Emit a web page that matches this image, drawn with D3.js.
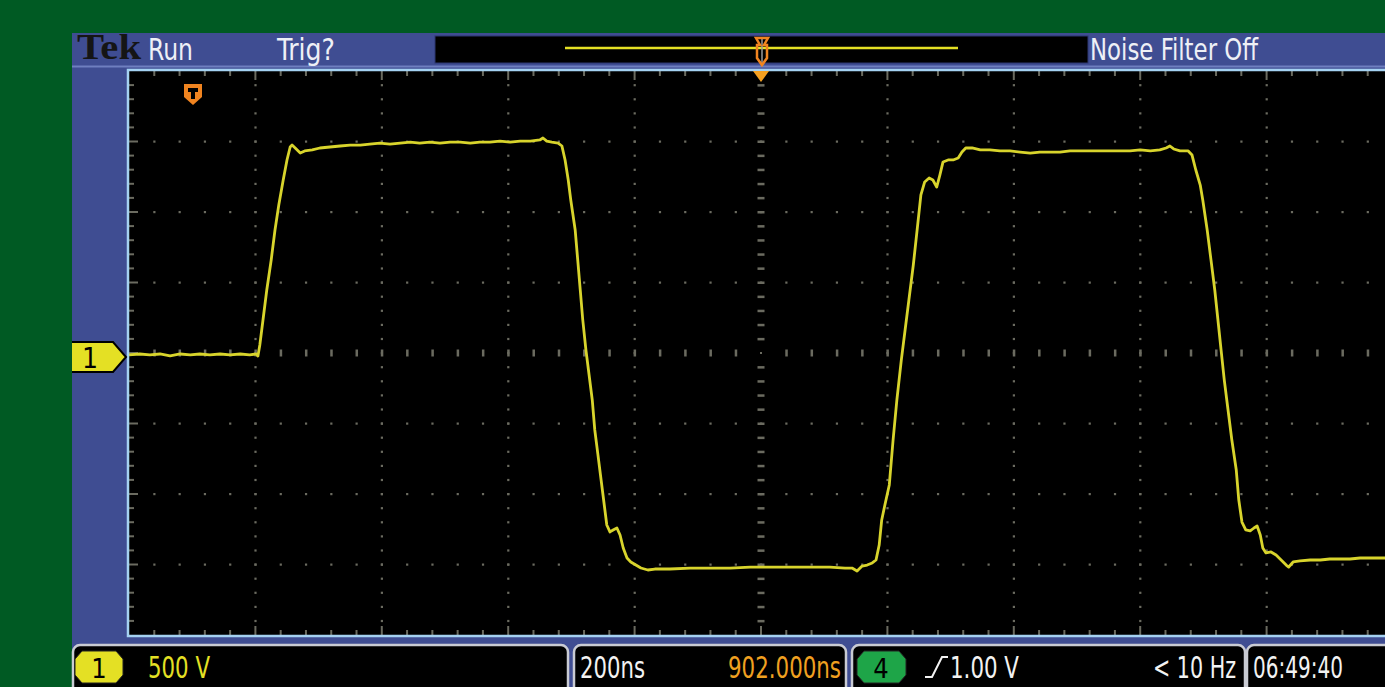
<!DOCTYPE html>
<html><head><meta charset="utf-8">
<script src="https://cdn.jsdelivr.net/npm/d3@7"></script>
<style>
html,body{margin:0;padding:0;background:#005a23;overflow:hidden}
svg{display:block}
text{font-family:"Liberation Sans Narrow","DejaVu Sans Condensed","Roboto Condensed","Liberation Sans",Arial,sans-serif}
</style></head><body><svg id="c" width="1385" height="687"></svg>
<script>
// ---- waveform data (time in ns from left edge of screen, voltage in V) ----
const timeNs = [
  0,17,33,49,65,81,97,112,128,144,160,176,191,201,204,
  207,212,218,225,231,237,244,250,255,258,
  263,271,278,290,302,318,334,350,366,381,397,413,429,445,460,476,492,508,524,540,555,571,587,603,619,635,650,655,661,669,679,685,
  690,695,699,706,710,714,718,723,728,733,737,742,747,752,756,761,766,772,777,782,788,794,802,810,821,
  832,856,888,919,951,983,1014,1046,1078,1109,1133,1144,1152,1160,1168,1176,1182,
  1187,1191,1196,1203,1209,1215,1222,1228,1234,1241,1247,1253,1259,1266,1272,1278,1283,1288,1296,1304,1312,1318,1324,1334,
  1347,1362,1378,1394,1410,1426,1441,1457,1473,1489,1505,1521,1536,1552,1568,1584,1600,1616,1631,1641,1647,1653,1663,1676,1682,
  1688,1695,1699,1706,1712,1718,1723,1728,1733,1739,1745,1752,1756,1761,1767,1774,1780,1785,1790,1794,1799,1807,1815,1823,1831,1835,1842,
  1853,1869,1885,1900,1916,1932,1948,1964,1987,2000
];
const volts = [
  -14,-7,-14,-7,-21,-7,-14,-7,-14,-7,-14,-7,-14,-7,-21,
  57,234,447,660,872,1050,1227,1369,1461,1475,
  1454,1418,1433,1440,1454,1461,1468,1475,1475,1482,1489,1482,1489,1496,1489,1496,1489,1496,1496,1489,1496,1496,1503,1496,1503,1503,1511,1525,1503,1496,1489,1468,
  1369,1227,1085,872,660,447,234,21,-156,-333,-546,-723,-901,-1078,-1220,-1269,-1255,-1241,-1291,-1383,-1454,-1482,-1504,-1525,-1539,
  -1532,-1532,-1525,-1525,-1525,-1518,-1518,-1518,-1518,-1518,-1525,-1525,-1546,-1511,-1504,-1489,-1468,
  -1362,-1184,-1078,-936,-617,-333,-50,163,376,624,872,1121,1213,1241,1227,1177,1262,1355,1369,1369,1383,1425,1454,1454,
  1440,1440,1433,1433,1425,1418,1425,1425,1425,1433,1433,1433,1433,1433,1433,1433,1440,1433,1440,1454,1468,1447,1433,1433,1404,
  1298,1191,1085,872,660,447,234,21,-191,-404,-617,-830,-1043,-1199,-1255,-1262,-1241,-1227,-1291,-1383,-1418,-1411,-1433,-1468,-1504,-1518,-1482,
  -1475,-1468,-1468,-1461,-1461,-1461,-1454,-1454,-1454,-1454
];
// graticule: 10 horizontal divisions of 200 ns, 8 vertical divisions of 500 V
const xMajorNs = [0,200,400,600,800,1000,1200,1400,1600,1800,2000];
const yMajorV = [-2000,-1500,-1000,-500,0,500,1000,1500,2000];
const minorPerDiv = 5;
// readout texts
const topTexts = ["Run","Trig?","Noise Filter Off"];
const brandText = "Tek";
const channelTexts = ["1","500 V"];
const timebaseTexts = ["200ns","902.000ns"];
const triggerTexts = ["4","1.00 V","< 10 Hz"];
const clockText = "06:49:40";

const svg = d3.select("#c");
const W = 1385, H = 687;
const x = d3.scaleLinear().domain([0,2000]).range([129,1393]);
const y = d3.scaleLinear().domain([-2000,2000]).range([635,71]);

const BLUE = "#3f4d92", YEL = "#e4e024", ORG = "#f08420", GRID = "#6b6b60";
const FS = 30;

svg.append("rect").attr("width",W).attr("height",H).attr("fill","#005a23");
svg.append("rect").attr("x",72).attr("y",33).attr("width",W-72).attr("height",H-33).attr("fill",BLUE);

// top bar
svg.append("line").attr("x1",72).attr("x2",W).attr("y1",66.5).attr("y2",66.5).attr("stroke","#6f7fbf").attr("stroke-width",2);
svg.append("text").attr("x",77).attr("y",59)
  .style("font-family","'Liberation Serif','DejaVu Serif',serif").attr("font-weight","bold").attr("font-size",35)
  .attr("textLength",64).attr("lengthAdjust","spacingAndGlyphs").attr("fill","#151515").text(brandText);
const topPos = [[148,45],[277,58],[1090,168]];
topTexts.forEach((t,i)=>{
  svg.append("text").attr("x",topPos[i][0]).attr("y",60).attr("font-size",FS)
    .attr("textLength",topPos[i][1]).attr("lengthAdjust","spacingAndGlyphs").attr("fill","#eef0f6").text(t);
});
svg.append("rect").attr("x",435).attr("y",36).attr("width",653).attr("height",27).attr("fill","#000")
  .attr("stroke","#2c3670").attr("stroke-width",1);
svg.append("line").attr("x1",565).attr("x2",958).attr("y1",48).attr("y2",48).attr("stroke",YEL).attr("stroke-width",2.5);
svg.append("line").attr("x1",762).attr("x2",762).attr("y1",37).attr("y2",66).attr("stroke","#9a9a9a").attr("stroke-width",1.5);
svg.append("path").attr("d","M756,38 H768 L764,45 H767 V58 L762,65 L757,58 V45 H760 Z").attr("fill","none").attr("stroke",ORG).attr("stroke-width",2.5);

// plot area
svg.append("rect").attr("x",x(0)).attr("y",y(2000)).attr("width",x(2000)-x(0)).attr("height",y(-2000)-y(2000)).attr("fill","#000");

const minorX = d3.range(0, xMajorNs.length-1).flatMap(i=>d3.range(minorPerDiv).map(k=>xMajorNs[i]+k*(xMajorNs[i+1]-xMajorNs[i])/minorPerDiv)).concat([2000]);
const minorY = d3.range(0, yMajorV.length-1).flatMap(i=>d3.range(minorPerDiv).map(k=>yMajorV[i]+k*(yMajorV[i+1]-yMajorV[i])/minorPerDiv)).concat([2000]);

const g = svg.append("g");
xMajorNs.filter(v=>v>0 && v<2000 && v!==1000).forEach(xv=>{
  minorY.filter(v=>v>-2000 && v<2000).forEach(yv=>{
    g.append("rect").attr("x",x(xv)-1).attr("y",y(yv)-1).attr("width",2.2).attr("height",2.2).attr("fill",GRID);
  });
});
yMajorV.filter(v=>v>-2000 && v<2000 && v!==0).forEach(yv=>{
  minorX.filter(v=>v>0 && v<2000).forEach(xv=>{
    g.append("rect").attr("x",x(xv)-1).attr("y",y(yv)-1).attr("width",2.2).attr("height",2.2).attr("fill",GRID);
  });
});
minorY.filter(v=>v>-2000 && v<2000).forEach(yv=>{
  if (yv===0) g.append("rect").attr("x",x(1000)-1).attr("y",y(0)-1).attr("width",2).attr("height",2).attr("fill",GRID);
  else g.append("rect").attr("x",x(1000)-3.5).attr("y",y(yv)-1).attr("width",7).attr("height",2.5).attr("fill",GRID);
});
minorX.filter(v=>v>0 && v<2000 && v!==1000).forEach(xv=>{
  g.append("rect").attr("x",x(xv)-1).attr("y",y(0)-3.5).attr("width",2.5).attr("height",7).attr("fill",GRID);
});
minorX.filter(v=>v>0).forEach(xv=>{
  const major = xMajorNs.includes(xv);
  g.append("line").attr("x1",x(xv)).attr("x2",x(xv)).attr("y1",y(2000)).attr("y2",y(2000)+(major?9:5)).attr("stroke",GRID).attr("stroke-width",2);
  g.append("line").attr("x1",x(xv)).attr("x2",x(xv)).attr("y1",y(-2000)).attr("y2",y(-2000)-(major?9:5)).attr("stroke",GRID).attr("stroke-width",2);
});
minorY.filter(v=>v>-2000 && v<2000).forEach(yv=>{
  const major = yMajorV.includes(yv);
  g.append("line").attr("x1",x(0)).attr("x2",x(0)+(major?9:5)).attr("y1",y(yv)).attr("y2",y(yv)).attr("stroke",GRID).attr("stroke-width",2);
});

// trace
svg.append("clipPath").attr("id","clip").append("rect").attr("x",x(0)).attr("y",y(2000)).attr("width",x(2000)-x(0)).attr("height",y(-2000)-y(2000));
const pts = timeNs.map((t,i)=>({t, v:volts[i]}));
svg.append("path").datum(pts).attr("clip-path","url(#clip)")
  .attr("d", d3.line().x(d=>x(d.t)).y(d=>y(d.v)))
  .attr("fill","none").attr("stroke","#d8d42c").attr("stroke-width",2.8).attr("stroke-linejoin","round");

// plot border
svg.append("path").attr("d",`M${W+5},${y(2000)-1} H${x(0)-1} V${y(-2000)+1} H${W+5}`).attr("fill","none").attr("stroke","#a5d2f2").attr("stroke-width",2.5);

// trigger position marker
svg.append("path").attr("d",`M${x(1000)-8},${y(2000)} L${x(1000)+8},${y(2000)} L${x(1000)},${y(2000)+11} Z`).attr("fill","#f5a020");
svg.append("path").attr("d","M184,84 H202 V97 L193,105 L184,97 Z").attr("fill",ORG);
svg.append("path").attr("d","M188,88 H198 V92 H195 V99 H191 V92 H188 Z").attr("fill","#000");

// channel 1 ground marker
svg.append("path").attr("d",`M72,${y(0)-11} H113 L126,${y(0)+4} L113,${y(0)+19} H72`).attr("fill",YEL).attr("stroke","#000").attr("stroke-width",2);
svg.append("text").attr("x",82).attr("y",y(0)+15).attr("font-size",28).attr("fill","#000").text(channelTexts[0]);

// bottom readout boxes
const boxes = [[73,495],[574,272],[852,393],[1247,150]];
boxes.forEach(b=>{
  svg.append("rect").attr("x",b[0]).attr("y",645).attr("width",b[1]).attr("height",50).attr("rx",7)
    .attr("fill","#000").attr("stroke","#c9cbd3").attr("stroke-width",2.5);
});
svg.append("path").attr("d","M75,659 L82,651 H116 L123,659 V675 L116,683 H82 L75,675 Z").attr("fill",YEL).attr("stroke","#222").attr("stroke-width",1);
svg.append("text").attr("x",99).attr("y",678).attr("text-anchor","middle").attr("font-size",27).attr("fill","#000").text(channelTexts[0]);
svg.append("text").attr("x",148).attr("y",678).attr("font-size",FS).attr("textLength",62).attr("lengthAdjust","spacingAndGlyphs").attr("fill",YEL).text(channelTexts[1]);
svg.append("text").attr("x",580).attr("y",678).attr("font-size",FS).attr("textLength",65).attr("lengthAdjust","spacingAndGlyphs").attr("fill","#f2f2f2").text(timebaseTexts[0]);
svg.append("text").attr("x",728).attr("y",678).attr("font-size",FS).attr("textLength",113).attr("lengthAdjust","spacingAndGlyphs").attr("fill","#f0a020").text(timebaseTexts[1]);
svg.append("path").attr("d","M857,659 L864,651 H899 L906,659 V675 L899,683 H864 L857,675 Z").attr("fill","#1ea548").attr("stroke","#222").attr("stroke-width",1);
svg.append("text").attr("x",881).attr("y",678).attr("text-anchor","middle").attr("font-size",27).attr("fill","#000").text(triggerTexts[0]);
svg.append("path").attr("d","M925,677 H932 L942,657 H948").attr("fill","none").attr("stroke","#f2f2f2").attr("stroke-width",2);
svg.append("text").attr("x",950).attr("y",678).attr("font-size",FS).attr("textLength",69).attr("lengthAdjust","spacingAndGlyphs").attr("fill","#f2f2f2").text(triggerTexts[1]);
svg.append("text").attr("x",1153).attr("y",678).attr("font-size",FS).attr("textLength",83).attr("lengthAdjust","spacingAndGlyphs").attr("fill","#f2f2f2").text(triggerTexts[2]);
svg.append("text").attr("x",1253).attr("y",678).attr("font-size",FS).attr("textLength",90).attr("lengthAdjust","spacingAndGlyphs").attr("fill","#f2f2f2").text(clockText);
</script></body></html>
